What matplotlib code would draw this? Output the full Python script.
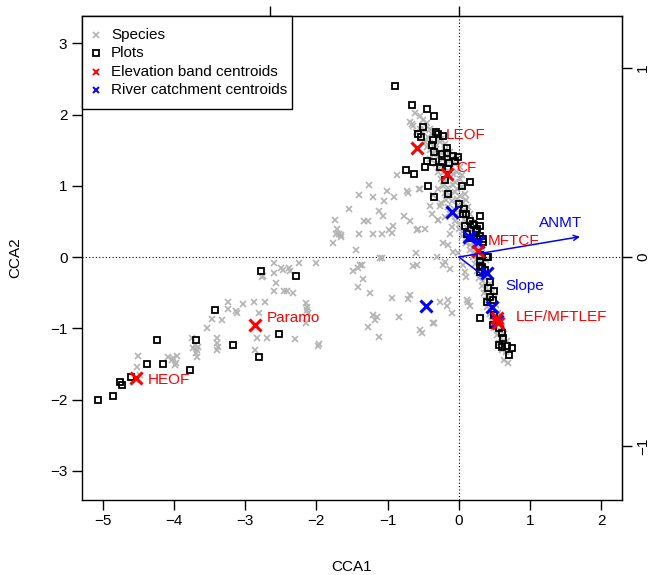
import numpy as np
import matplotlib
matplotlib.use("Agg")
import matplotlib.pyplot as plt
from matplotlib.patches import Rectangle

plt.rcParams['font.family'] = ['Liberation Sans', 'DejaVu Sans']
plt.rcParams['font.size'] = 11

# ========== data ==========
# species scores (grey crosses)
species_x = [
    # left arm
    -4.53, -4.51, -4.52, -4.48, -4.09, -4.03, -3.96, -3.97, -3.98, -4.01,
    -3.75, -3.70, -3.68, -3.69, -3.67, -3.73, -3.66,
    -3.54, -3.47, -3.33, -3.40, -3.39, -3.40, -3.38,
    -3.24, -3.24, -3.13, -3.12, -3.03, -2.88, -2.72, -2.80,
    -2.86, -2.83, -2.69, -2.75, -2.60, -2.60, -2.50, -2.47, -2.38, -2.37,
    -2.24, -2.01, -2.57, -2.59, -2.45, -2.41, -2.33,
    -2.14, -2.13, -2.13, -2.12, -2.14, -2.30, -1.98, -1.96, -2.77,
    # middle scatter
    -1.44, -1.76, -1.71, -1.68, -1.65, -1.74, -1.54, -1.40, -1.26, -1.20,
    -1.05, -1.01, -0.91, -0.87, -1.40, -1.33, -1.27, -1.20, -1.08, -1.12,
    -1.06, -0.98, -0.93, -0.94, -0.77, -0.68, -0.59, -0.48, -0.73, -0.71,
    -0.55, -0.41, -0.38, -0.30, -0.37, -0.56, -1.73, -1.65, -0.57,
    -1.08, -0.60, -1.39, -1.41, -1.48, -1.35, -1.41, -1.25, -0.94, -0.69,
    -0.71, -0.64, -0.84, -1.20, -1.15, -1.18, -1.27, -1.12, -0.55, -0.52,
    -0.35, -0.31, -1.36, -1.11, -0.59, -0.22, -0.13,
    -0.27, -0.29, -0.10, -0.13, -0.22, -0.08, 0.06, 0.08, 0.10, -0.20,
    -0.15, -0.27, -0.17, -0.10, -0.36, 0.11, 0.13, 0.15, -0.15, -0.01,
    # dense band
    -0.62, -0.55, -0.69, -0.66, -0.64, -0.50, -0.45,
    -0.55, -0.48, -0.40, -0.35, -0.60,
    -0.52, -0.44, -0.38, -0.30, -0.25,
    -0.48, -0.40, -0.33, -0.27, -0.20, -0.45,
    -0.40, -0.32, -0.26, -0.20, -0.12, -0.36,
    -0.30, -0.22, -0.18, -0.10, -0.04, -0.40,
    -0.32, -0.25, -0.18, -0.10, -0.05, 0.02,
    -0.30, -0.22, -0.15, -0.08, -0.02, 0.05,
    -0.25, -0.18, -0.12, -0.05, 0.02,
    -0.22, -0.15, -0.08, -0.02, 0.05, -0.30,
    -0.20, -0.12, -0.05, 0.02, 0.08,
    -0.18, -0.10, -0.03, 0.04, 0.10, -0.25,
    -0.15, -0.07, 0.00, 0.07, 0.13,
    -0.12, -0.04, 0.03, 0.10, 0.16, -0.20,
    -0.05, 0.02, 0.08, 0.15, 0.22,
    0.00, 0.06, 0.12, 0.18, 0.25,
    0.05, 0.11, 0.17, 0.23, 0.30,
    0.10, 0.16, 0.22, 0.28,
    0.15, 0.21, 0.27, 0.33,
    0.20, 0.26, 0.32, 0.38,
    0.22, 0.28, 0.34,
    0.25, 0.31, 0.37,
    0.28, 0.34, 0.40,
    0.32, 0.38, 0.44,
    0.35, 0.41, 0.46,
    0.38, 0.44, 0.50,
    0.40, 0.46, 0.52,
    0.43, 0.49, 0.55,
    0.46, 0.52, 0.58,
    0.50, 0.56, 0.61,
    0.53, 0.59, 0.64,
    0.56, 0.62, 0.67,
    0.60, 0.66,
    0.63, 0.69,
]
species_y = [
    -1.73, -1.39, -1.55, -1.65, -1.40, -1.44, -1.39, -1.49, -1.51, -1.42,
    -1.13, -1.23, -1.30, -1.35, -1.41, -1.28, -1.26,
    -0.99, -0.87, -0.88, -1.14, -1.20, -1.30, -1.26,
    -0.63, -0.73, -0.76, -0.79, -0.66, -0.63, -0.63, -0.78,
    -1.30, -1.14, -1.13, -0.27, -0.09, -0.22, -0.15, -0.18, -0.16, -0.20,
    -0.09, -0.09, -0.37, -0.47, -0.47, -0.47, -0.50,
    -0.65, -0.70, -0.74, -0.79, -0.93, -1.15, -1.25, -1.22, -0.28,
    0.10, 0.20, 0.39, 0.33, 0.28, 0.52, 0.68, 0.87, 1.01, 0.84,
    0.78, 0.93, 0.84, 1.15, 0.33, 0.50, 0.50, 0.32, 0.32, 0.64,
    0.57, 0.38, 0.43, 0.34, 0.58, 0.50, 0.38, 0.40, 0.93, 0.90,
    0.95, 0.71, 0.61, 0.52, 0.87, 0.96, 0.33, 0.31, 0.39,
    -0.02, 0.05, -0.11, -0.16, -0.20, -0.31, -0.42, -0.51, -0.58, -0.53,
    -0.59, -0.13, -0.84, -0.81, -0.84, -0.88, -0.98, -1.12, -1.02, -1.07,
    -0.92, 0.00, -0.11, -0.02, -0.11, -0.11, -0.17,
    0.71, 0.52, 0.42, 0.33, 0.19, 0.07, -0.11, -0.21, -0.28, -0.07,
    -0.60, -0.63, -0.69, -0.79, -0.93, -0.60, -0.63, -0.69, 0.17, 0.05,
    2.02, 1.98, 1.90, 1.87, 1.84, 1.92, 1.88,
    1.80, 1.78, 1.80, 1.77, 1.76,
    1.70, 1.68, 1.72, 1.68, 1.65,
    1.62, 1.60, 1.58, 1.61, 1.58, 1.55,
    1.50, 1.52, 1.47, 1.50, 1.48, 1.44,
    1.40, 1.38, 1.42, 1.36, 1.38, 1.38,
    1.30, 1.28, 1.32, 1.27, 1.30, 1.26,
    1.20, 1.18, 1.21, 1.17, 1.19, 1.15,
    1.10, 1.07, 1.11, 1.06, 1.09,
    1.00, 0.97, 1.01, 0.96, 0.98, 0.95,
    0.90, 0.87, 0.91, 0.86, 0.89,
    0.80, 0.78, 0.82, 0.77, 0.80, 0.76,
    0.70, 0.68, 0.71, 0.66, 0.70,
    0.60, 0.57, 0.61, 0.56, 0.60, 0.56,
    0.50, 0.47, 0.51, 0.46, 0.50,
    0.40, 0.37, 0.41, 0.36, 0.39,
    0.30, 0.27, 0.31, 0.26, 0.30,
    0.20, 0.17, 0.21, 0.16,
    0.10, 0.07, 0.12, 0.06,
    0.00, -0.03, 0.02, -0.04,
    -0.10, -0.13, -0.09,
    -0.20, -0.23, -0.18,
    -0.30, -0.33, -0.28,
    -0.40, -0.43, -0.38,
    -0.50, -0.53, -0.48,
    -0.60, -0.63, -0.58,
    -0.70, -0.73, -0.68,
    -0.80, -0.83, -0.78,
    -0.90, -0.93, -0.88,
    -1.00, -1.03, -0.98,
    -1.10, -1.13, -1.08,
    -1.20, -1.23, -1.18,
    -1.30, -1.33,
    -1.44, -1.49,
]

# site scores (black squares)
plots_x = [
    -0.90, -0.66, -0.45, -0.35, -0.50, -0.58, -0.53, -0.32, -0.30, -0.22,
    -0.37, -0.38, -0.35, -0.17, -0.16, -0.08, -0.01, -0.06, -0.24, -0.45,
    -0.36, -0.24, -0.14, -0.47, -0.27, -0.15, -0.74, -0.63, -0.20, 0.15,
    0.04, -0.44, -0.15, -0.35, 0.00, 0.07, 0.10, 0.29, 0.08, 0.21,
    0.30, 0.24, 0.11, 0.15, 0.25, 0.34, 0.39, 0.29, 0.30,
    0.06, 0.15, 0.20, 0.25, 0.29, 0.34, 0.29, 0.41, 0.32, 0.29, 0.36,
    0.43, 0.50, 0.41, 0.43, 0.48, 0.39, 0.29, 0.50, 0.48, 0.57,
    0.60, 0.62, 0.57, 0.61, 0.67, 0.75, 0.71,
    -5.06, -4.85, -4.75, -4.73, -4.60, -4.38, -4.24, -4.16, -3.77, -3.69,
    -3.43, -3.17, -2.81, -2.78, -2.53, -2.29,
]
plots_y = [
    2.40, 2.14, 2.08, 1.98, 1.82, 1.73, 1.69, 1.76, 1.73, 1.70,
    1.64, 1.57, 1.48, 1.53, 1.46, 1.42, 1.40, 1.35, 1.44, 1.35,
    1.34, 1.34, 1.32, 1.27, 1.26, 1.24, 1.22, 1.16, 1.08, 1.06,
    1.00, 1.00, 0.89, 0.84, 0.74, 0.67, 0.60, 0.58, 0.44, 0.45,
    0.43, 0.37, 0.33, 0.27, 0.26, 0.21, 0.00, -0.07, -0.13,
    0.60, 0.51, 0.46, 0.40, 0.29, 0.25, 0.03, 0.00, -0.14, -0.21, -0.18,
    -0.35, -0.47, -0.43, -0.56, -0.60, -0.63, -0.85, -0.81, -0.95, -1.00,
    -1.07, -1.14, -1.23, -1.26, -1.25, -1.28, -1.37,
    -2.00, -1.95, -1.75, -1.79, -1.69, -1.50, -1.17, -1.50, -1.58, -1.16,
    -0.74, -1.23, -1.41, -0.19, -1.08, -0.26,
]

# elevation band centroids (red)
elev_x = [-4.53, -2.86, -0.59, -0.17, 0.27, 0.53, 0.55]
elev_y = [-1.70, -0.95, 1.53, 1.16, 0.09, -0.86, -0.93]
elev_names = ['HEOF', 'Paramo', 'LEOF', 'CF', 'MFTCF', 'LEF/MFTLEF']
elev_lab_x = [-4.37, -2.70, -0.18, -0.03, 0.40, 0.80]
elev_lab_y = [-1.72, -0.86, 1.71, 1.25, 0.22, -0.84]

# river catchment centroids (blue)
river_x = [-0.09, 0.14, 0.27, 0.40, 0.46, -0.46, 0.54]
river_y = [0.63, 0.28, 0.21, -0.23, -0.70, -0.69, -0.90]

# environmental vectors (arrow ends, in plot units)
env_names = ['ANMT', 'Slope']
env_x = [1.70, 0.38]
env_y = [0.285, -0.29]
env_lab_x = [1.12, 0.65]
env_lab_y = [0.48, -0.41]

ARROW_MUL = 2.65  # ratio between site axes and the top/right biplot axes

# ========== plot ==========
fig = plt.figure(figsize=(6.54, 5.75), dpi=100)
ax = fig.add_axes([0.1254, 0.1304, 0.8257, 0.8426])

ax.axhline(0, color='black', linestyle=(0, (1, 2)), linewidth=0.8, zorder=1)
ax.axvline(0, color='black', linestyle=(0, (1, 2)), linewidth=0.8, zorder=1)

ax.plot(species_x, species_y, linestyle='none', marker='x', ms=4.5, mew=1.2,
        color='#b3b3b3', zorder=2)
ax.plot(plots_x, plots_y, linestyle='none', marker='s', ms=4.3, mew=1.3,
        mfc='none', mec='black', zorder=3)
ax.plot(elev_x, elev_y, linestyle='none', marker='x', ms=8, mew=2.2,
        color='red', zorder=5)
ax.plot(river_x, river_y, linestyle='none', marker='x', ms=8, mew=2.2,
        color='blue', zorder=4)

for xe, ye in zip(env_x, env_y):
    ax.annotate('', xy=(xe, ye), xytext=(0, 0),
                arrowprops=dict(arrowstyle='->', color='blue', lw=1.1,
                                shrinkA=0, shrinkB=0, mutation_scale=9),
                zorder=6)
for name, lx, ly in zip(env_names, env_lab_x, env_lab_y):
    ax.text(lx, ly, name, color='blue', ha='left', va='center', fontsize=11, zorder=7)
for name, lx, ly in zip(elev_names, elev_lab_x, elev_lab_y):
    ax.text(lx, ly, name, color='red', ha='left', va='center', fontsize=11, zorder=7)

ax.set_xlim(-5.29, 2.29)
ax.set_ylim(-3.408, 3.387)
ax.set_aspect('equal', adjustable='box')
ax.set_xticks(range(-5, 3))
ax.set_yticks(range(-3, 4))
ax.tick_params(direction='out', length=7, width=1, labelsize=11)
for sp in ax.spines.values():
    sp.set_linewidth(1.0)
ax.set_xlabel('CCA1', fontsize=11, labelpad=23)
ax.set_ylabel('CCA2', fontsize=11, labelpad=20)

# right and top axes for the biplot arrows
ax_r = ax.secondary_yaxis('right', functions=(lambda v: v / ARROW_MUL, lambda v: v * ARROW_MUL))
ax_r.set_yticks([-1, 0, 1])
ax_r.tick_params(direction='out', length=7, width=1, labelsize=11, pad=3)
for lab in ax_r.get_yticklabels():
    lab.set_rotation(90)
    lab.set_va('center')
ax_t = ax.secondary_xaxis('top', functions=(lambda v: v / ARROW_MUL, lambda v: v * ARROW_MUL))
ax_t.set_xticks([-1, 0])
ax_t.set_xticklabels(['', ''])
ax_t.tick_params(direction='out', length=7, width=1)

# legend drawn by hand so the box hugs the text like the R legend does
leg_labels = ['Species', 'Plots', 'Elevation band centroids', 'River catchment centroids']
leg_styles = [
    dict(marker='x', ms=5, mew=1.2, color='#b3b3b3'),
    dict(marker='s', ms=4.3, mew=1.3, mfc='none', mec='black'),
    dict(marker='x', ms=5, mew=1.4, color='red'),
    dict(marker='x', ms=5, mew=1.4, color='blue'),
]
leg_rows = [0.9598, 0.9226, 0.8834, 0.8462]
ax.add_patch(Rectangle((0, 1 - 0.193), 0.389, 0.193, transform=ax.transAxes,
                       facecolor='white', edgecolor='black', linewidth=1.0,
                       zorder=10, clip_on=False))
for lab, style, yy in zip(leg_labels, leg_styles, leg_rows):
    ax.plot([0.026], [yy], linestyle='none', transform=ax.transAxes,
            zorder=11, clip_on=False, **style)
    ax.text(0.0537, yy, lab, transform=ax.transAxes, ha='left', va='center',
            fontsize=11, zorder=11)

fig.savefig('out.png', dpi=100)
